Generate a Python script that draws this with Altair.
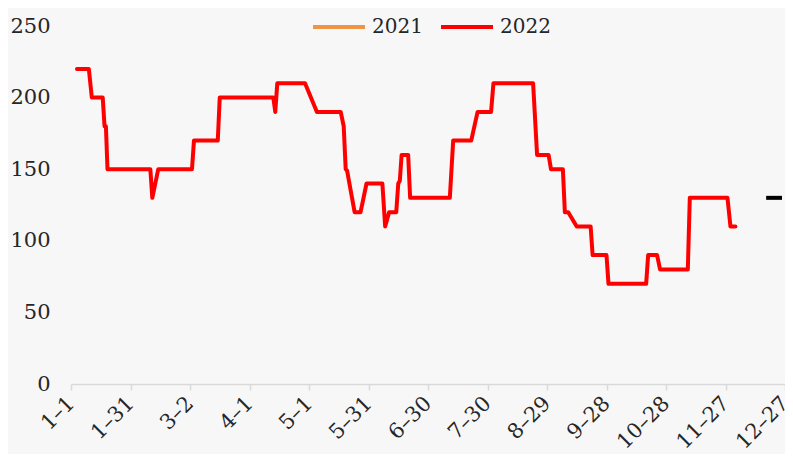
import altair as alt
import pandas as pd

# --- data (day offset from 2022-01-01, value) ---
days_2022 = [3, 9, 10.5, 16, 16.9, 17.6, 18.4, 40, 41, 44, 61, 62, 74, 75, 102, 103, 104,
             118, 124, 136, 137.5, 138.5, 139.2, 143, 146, 149, 157, 158.4, 160.4, 164, 165,
             165.8, 166.7, 170, 171, 191, 192.7, 201.8, 205, 211.8, 213, 233, 235, 240.8, 242,
             248, 249, 250.7, 255, 262, 263, 270, 271, 290, 291, 295.5, 297, 311, 312, 331,
             332.5, 335]
vals_2022 = [220, 220, 200, 200, 180, 180, 150, 150, 130, 150, 150, 170, 170, 200, 200, 190, 210,
             210, 190, 190, 180, 150, 149, 120, 120, 140, 140, 110, 120, 120, 140,
             142, 160, 160, 130, 130, 170, 170, 190, 190, 210, 210, 160, 160, 150,
             150, 120, 120, 110, 110, 90, 90, 70, 70, 90, 90, 80, 80, 130, 130,
             110, 110]

days_mark = [350.5, 358.5]
vals_mark = [130, 130]

series_names = ["2021", "2022"]
series_colors = ["#ED9542", "#FF0000"]

tick_labels = ["1-1", "1-31", "3-2", "4-1", "5-1", "5-31", "6-30", "7-30", "8-29",
               "9-28", "10-28", "11-27", "12-27"]
y_ticks = [0, 50, 100, 150, 200, 250]

base = pd.Timestamp("2022-01-01")
df = pd.DataFrame({
    "date": [base + pd.Timedelta(days=d) for d in days_2022],
    "value": vals_2022,
    "series": "2022",
})
df_mark = pd.DataFrame({
    "date": [base + pd.Timedelta(days=d) for d in days_mark],
    "value": vals_mark,
})

tick_values = [alt.DateTime(year=2022, month=int(t.split("-")[0]), date=int(t.split("-")[1]))
               for t in tick_labels]

FONT = "DejaVu Serif"
FS = 21

x_scale = alt.Scale(domain=[alt.DateTime(year=2022, month=1, date=1),
                            alt.DateTime(year=2022, month=12, date=27)], nice=False)
y_scale = alt.Scale(domain=[0, 250], nice=False)

x_enc = alt.X(
    "date:T",
    scale=x_scale,
    axis=alt.Axis(values=tick_values, format="%-m–%-d", labelAngle=-45, labelAlign="right",
                  labelBaseline="middle", labelPadding=10, tickSize=6, tickColor="#d9d9d9",
                  domainColor="#d9d9d9", domainWidth=1.5, tickWidth=1.5, grid=False,
                  labelFontSize=FS, labelFont=FONT, labelColor="#262626", title=None,
                  labelOverlap=False, labelFlush=False),
)
y_enc = alt.Y(
    "value:Q",
    scale=y_scale,
    axis=alt.Axis(values=y_ticks, domain=False, ticks=False, grid=False, labelPadding=21,
                  labelFontSize=FS, labelFont=FONT, labelColor="#262626", title=None),
)

line = alt.Chart(df).mark_line(strokeWidth=4, strokeJoin="round", strokeCap="round").encode(
    x=x_enc,
    y=y_enc,
    color=alt.Color(
        "series:N",
        scale=alt.Scale(domain=series_names, range=series_colors),
        legend=alt.Legend(orient="none", legendX=240, legendY=-27, direction="horizontal",
                          title=None, symbolType="stroke", symbolStrokeWidth=4,
                          symbolSize=2704, labelFontSize=20, labelFont=FONT,
                          labelColor="#262626", labelOffset=5, columnPadding=10),
    ),
)

mark = alt.Chart(df_mark).mark_line(strokeWidth=4, color="black").encode(
    x=alt.X("date:T", scale=x_scale),
    y=alt.Y("value:Q", scale=y_scale),
)

chart = (line + mark).properties(
    width=714,
    height=358,
    autosize=alt.AutoSizeParams(type="none"),
    padding={"left": 63, "top": 18, "right": 0, "bottom": 70},
    background="#f7f7f7",
).configure_view(stroke=None)

chart.save("out.html", embed_options={"renderer": "svg", "actions": False})
